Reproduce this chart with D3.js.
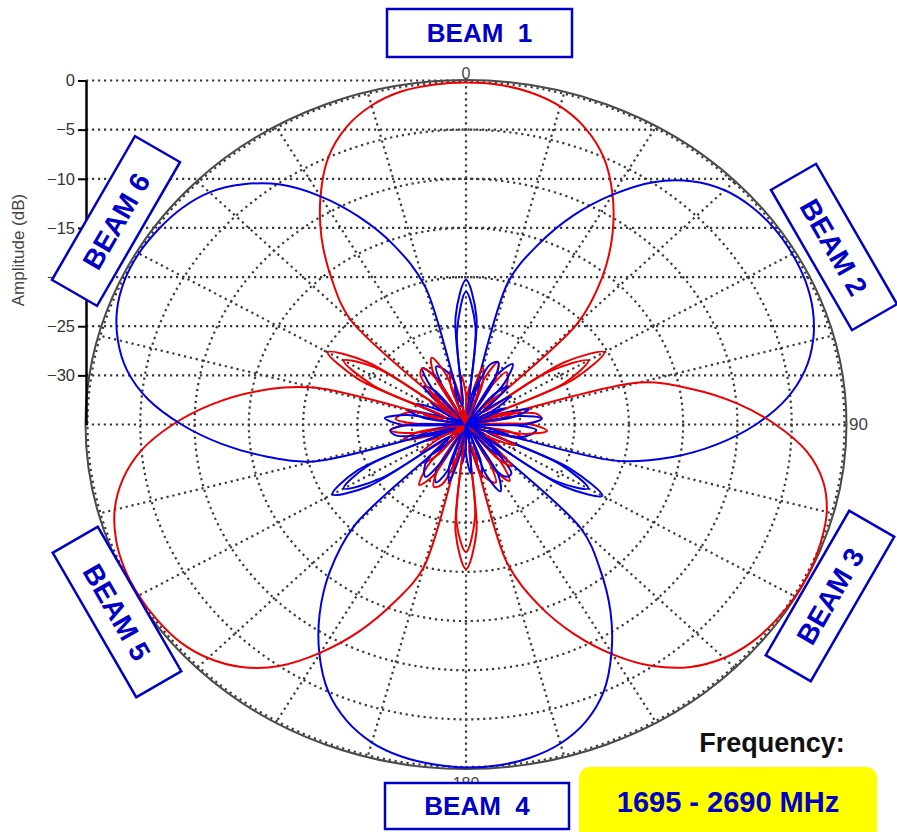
<!DOCTYPE html>
<html><head><meta charset="utf-8">
<script src="https://cdn.jsdelivr.net/npm/d3@7"></script>
<style>body{margin:0;background:#fff}svg{display:block}</style>
</head><body>
<svg id="chart" width="897" height="832"></svg>
<script>
// angle categories (degrees, clockwise from top), 5-degree steps
const angles = d3.range(0, 360, 5);

// amplitude (dB) per angle
const beam1 = [-0.2,-0.3,-0.7,-1.5,-2.9,-5.0,-8.0,-11.5,-15.5,-20.5,
  -33,-24,-20.3,-24,-34,-31,-28.5,-28,-30,-35,
  -31,-29.5,-33,-35,-33,-31,-34,-35,-30,-28,
  -29.5,-35,-33,-31,-33,-35,-33,-34,-32,-30.5,
  -32,-34,-29,-27.5,-29.5,-35,-33,-30,-32,-35,
  -32,-29,-30.5,-34,-31,-28.5,-29,-30,-33,-25.5,
  -22,-25,-33,-20,-15.8,-11.8,-8.2,-5.0,-2.8,-1.4,-0.6,-0.3];
const beam2 = [-21.5,-25,-33,-20,-15.5,-11.5,-8.0,-4.9,-2.7,-1.3,-0.6,-0.3,
  -0.3,-0.5,-1.0,-1.9,-3.3,-5.4,-8.3,-11.8,-15.8,-20.8,
  -33,-24.5,-20.5,-24,-34,-31,-28.5,-28.5,-30,-35,
  -31,-29.5,-33,-35,-33,-31,-34,-35,-30,-28.5,
  -29.5,-35,-33,-31,-33,-35,-33,-34,-32,-30.5,
  -32,-34,-29,-27.5,-29.5,-35,-33,-30,-32,-35,
  -32,-29.5,-30.5,-34,-31,-28.5,-29,-30,-33,-25.5];
const beam3 = [-32,-35,
  -32,-29,-30.5,-34,-31,-28.5,-29,-30,-33,-25.5,
  -22,-25,-33,-18.5,-14.0,-10.0,-6.5,-3.5,-1.6,-0.6,-0.2,0,
  0,-0.2,-0.6,-1.4,-2.8,-5.0,-8.0,-11.5,-15.5,-20.5,
  -33,-24,-20.3,-24,-34,-31,-28.5,-28,-30,-35,
  -31,-29.5,-33,-35,-33,-31,-34,-35,-30,-28,
  -29.5,-35,-33,-31,-33,-35,-33,-34,-32,-30.5,
  -32,-34,-29,-27.5,-29.5,-35,-33,-30];
const beam4 = [-33,-34,-32,-30.5,
  -32,-34,-29,-27.5,-29.5,-35,-33,-30,-32,-35,
  -32,-29,-30.5,-34,-31,-28.5,-29,-30,-33,-25.5,
  -22,-25,-33,-20,-15.8,-11.8,-8.2,-5.0,-2.8,-1.4,-0.6,-0.2,
  -0.1,-0.3,-0.7,-1.5,-2.9,-5.0,-8.0,-11.5,-15.5,-20.5,
  -33,-24,-20.8,-24,-34,-31,-28.5,-28,-30,-35,
  -31,-29.5,-33,-35,-33,-31,-34,-35,-30,-28,
  -29.5,-35,-33,-31,-33,-35];
const beam5 = [-33,-31,-34,-35,-30,-28,
  -29.5,-35,-33,-31,-33,-35,-33,-34,-32,-30.5,
  -32,-34,-29,-27.5,-29.5,-35,-33,-30,-32,-35,
  -32,-29,-30.5,-34,-31,-28.5,-29,-30,-33,-25.5,
  -22,-25,-33,-20,-15.8,-11.8,-8.2,-5.0,-2.8,-1.4,-0.6,-0.3,
  -0.2,-0.3,-0.7,-1.5,-2.9,-5.0,-8.0,-11.5,-15.5,-20.5,
  -33,-24,-20.3,-24,-34,-31,-28.5,-28,-30,-35,
  -31,-29.5,-33,-35];
const beam6 = [-20.3,-24,-34,-31,-28.5,-28,-30,-35,
  -31,-29.5,-33,-35,-33,-31,-34,-35,-30,-28,
  -29.5,-35,-33,-31,-33,-35,-33,-34,-32,-30.5,
  -32,-34,-29,-27.5,-29.5,-35,-33,-30,-32,-35,
  -32,-29,-30.5,-34,-31,-28.5,-29,-30,-33,-25.5,
  -22,-25,-33,-20.5,-16.3,-12.4,-8.8,-5.6,-3.3,-1.8,-0.8,-0.3,
  -0.2,-0.4,-0.8,-1.6,-3.1,-5.2,-8.2,-11.7,-15.6,-20.5,
  -33,-24];

const radialTicks = [0, -5, -10, -15, -20, -25, -30];
const spokeAngles = d3.range(0, 360, 15);
const angleLabels = ["0", "90", "180"];
const beamNames = ["BEAM\u00a0\u00a01", "BEAM 2", "BEAM 3", "BEAM\u00a0\u00a04", "BEAM 5", "BEAM 6"];
const freqTitle = "Frequency:";
const freqRange = "1695 - 2690 MHz";

const RED = "#ee0000", BLUE = "#0000e6", LABEL = "#0000c8";
const beams = [
  {values: beam1, color: RED}, {values: beam2, color: BLUE},
  {values: beam3, color: RED}, {values: beam4, color: BLUE},
  {values: beam5, color: RED}, {values: beam6, color: BLUE}
];

const cx = 466, cy = 424.5, rx = 380, ry = 344;
const r = d3.scaleLinear().domain([-35, 0]).range([0, 1]).clamp(true);
const yAxisScale = d3.scaleLinear().domain([-35, 0]).range([cy, cy - ry]);
const svg = d3.select("#chart");

function pt(theta, v) {
  const a = theta * Math.PI / 180, k = r(v);
  return [cx + rx * k * Math.sin(a), cy - ry * k * Math.cos(a)];
}

const grid = svg.append("g").attr("fill", "none").attr("stroke", "#3a3a3a")
  .attr("stroke-width", 2.2).attr("stroke-dasharray", "2.2,3.8");

// horizontal guide lines from the axis
grid.selectAll("line.h").data(radialTicks).join("line").attr("class", "h")
  .attr("x1", cx - rx).attr("x2", d => cx + rx * Math.sqrt(Math.max(0, 1 - r(d) * r(d))))
  .attr("y1", d => yAxisScale(d)).attr("y2", d => yAxisScale(d));

// rings
grid.selectAll("ellipse").data(radialTicks).join("ellipse")
  .attr("cx", cx).attr("cy", cy)
  .attr("rx", d => rx * r(d) - (d === 0 ? 1.5 : 0)).attr("ry", d => ry * r(d) - (d === 0 ? 1.5 : 0));

// spokes
grid.selectAll("line.s").data(spokeAngles).join("line").attr("class", "s")
  .attr("x1", cx).attr("y1", cy)
  .attr("x2", d => pt(d, 0)[0]).attr("y2", d => pt(d, 0)[1]);

// outer solid frame
svg.append("ellipse").attr("cx", cx).attr("cy", cy).attr("rx", rx + 0.5).attr("ry", ry + 0.5)
  .attr("fill", "none").attr("stroke", "#4a4a4a").attr("stroke-width", 2);

// left axis
const af = "Liberation Sans, Arial, sans-serif";
const axis = d3.axisLeft(yAxisScale).tickValues(radialTicks).tickSize(8).tickSizeOuter(0).tickPadding(3)
  .tickFormat(d3.format("d"));
const ag = svg.append("g").attr("transform", `translate(${cx - rx},0)`).call(axis);
ag.select(".domain").attr("stroke", "#000").attr("stroke-width", 2.5);
ag.selectAll(".tick line").attr("stroke", "#000").attr("stroke-width", 2);
ag.selectAll(".tick text").attr("font-family", af).attr("font-size", 16.5).attr("fill", "#333");

svg.append("text").attr("transform", "translate(24,250) rotate(-90)")
  .attr("text-anchor", "middle").attr("font-family", af)
  .attr("font-size", 17).attr("fill", "#444").text("Amplitude (dB)");

// angle labels
svg.append("text").attr("x", cx).attr("y", cy - ry - 2).attr("text-anchor", "middle")
  .attr("font-family", af).attr("font-size", 16).attr("fill", "#444").text(angleLabels[0]);
svg.append("text").attr("x", cx + rx + 3).attr("y", cy + 5).attr("text-anchor", "start")
  .attr("font-family", af).attr("font-size", 17).attr("fill", "#444").text(angleLabels[1]);
svg.append("text").attr("x", cx).attr("y", cy + ry + 20).attr("text-anchor", "middle")
  .attr("font-family", af).attr("font-size", 16).attr("fill", "#444").text(angleLabels[2]);

// beam patterns
const line = d3.line().x(d => d[0]).y(d => d[1]).curve(d3.curveCatmullRomClosed.alpha(0.5));
beams.forEach(b => {
  const pts = angles.map((a, i) => pt(a, b.values[i]));
  svg.append("path").attr("d", line(pts)).attr("fill", "none")
    .attr("stroke", b.color).attr("stroke-width", 2).attr("stroke-linejoin", "round");
});

// beam label boxes
const boxes = [
  {cx: 479.5, cy: 33, w: 185, h: 48, rot: 0, fs: 26},
  {cx: 834, cy: 247, w: 162, h: 52, rot: 60, fs: 28},
  {cx: 830, cy: 596, w: 167, h: 52, rot: -60, fs: 28},
  {cx: 477, cy: 806, w: 184, h: 46, rot: 0, fs: 26},
  {cx: 117, cy: 612, w: 167, h: 52, rot: 60, fs: 28},
  {cx: 116, cy: 221, w: 166, h: 52, rot: -60, fs: 28}
];
boxes.forEach((b, i) => {
  const g = svg.append("g").attr("transform", `translate(${b.cx},${b.cy}) rotate(${b.rot})`);
  g.append("rect").attr("x", -b.w / 2).attr("y", -b.h / 2).attr("width", b.w).attr("height", b.h)
    .attr("fill", "#fff").attr("stroke", LABEL).attr("stroke-width", 2.5);
  g.append("text").attr("text-anchor", "middle").attr("dy", "0.36em")
    .attr("font-family", af).attr("font-weight", "bold").attr("font-size", b.fs)
    .attr("fill", LABEL).text(beamNames[i]);
});

// frequency box
svg.append("text").attr("x", 772).attr("y", 752).attr("text-anchor", "middle")
  .attr("font-family", af).attr("font-weight", "bold").attr("font-size", 27).attr("fill", "#111").text(freqTitle);
svg.append("rect").attr("x", 579).attr("y", 767).attr("width", 298).attr("height", 80).attr("rx", 11)
  .attr("fill", "#ffff00");
svg.append("text").attr("x", 728).attr("y", 812).attr("text-anchor", "middle")
  .attr("font-family", af).attr("font-weight", "bold").attr("font-size", 29).attr("fill", LABEL).text(freqRange);
</script>
</body></html>
